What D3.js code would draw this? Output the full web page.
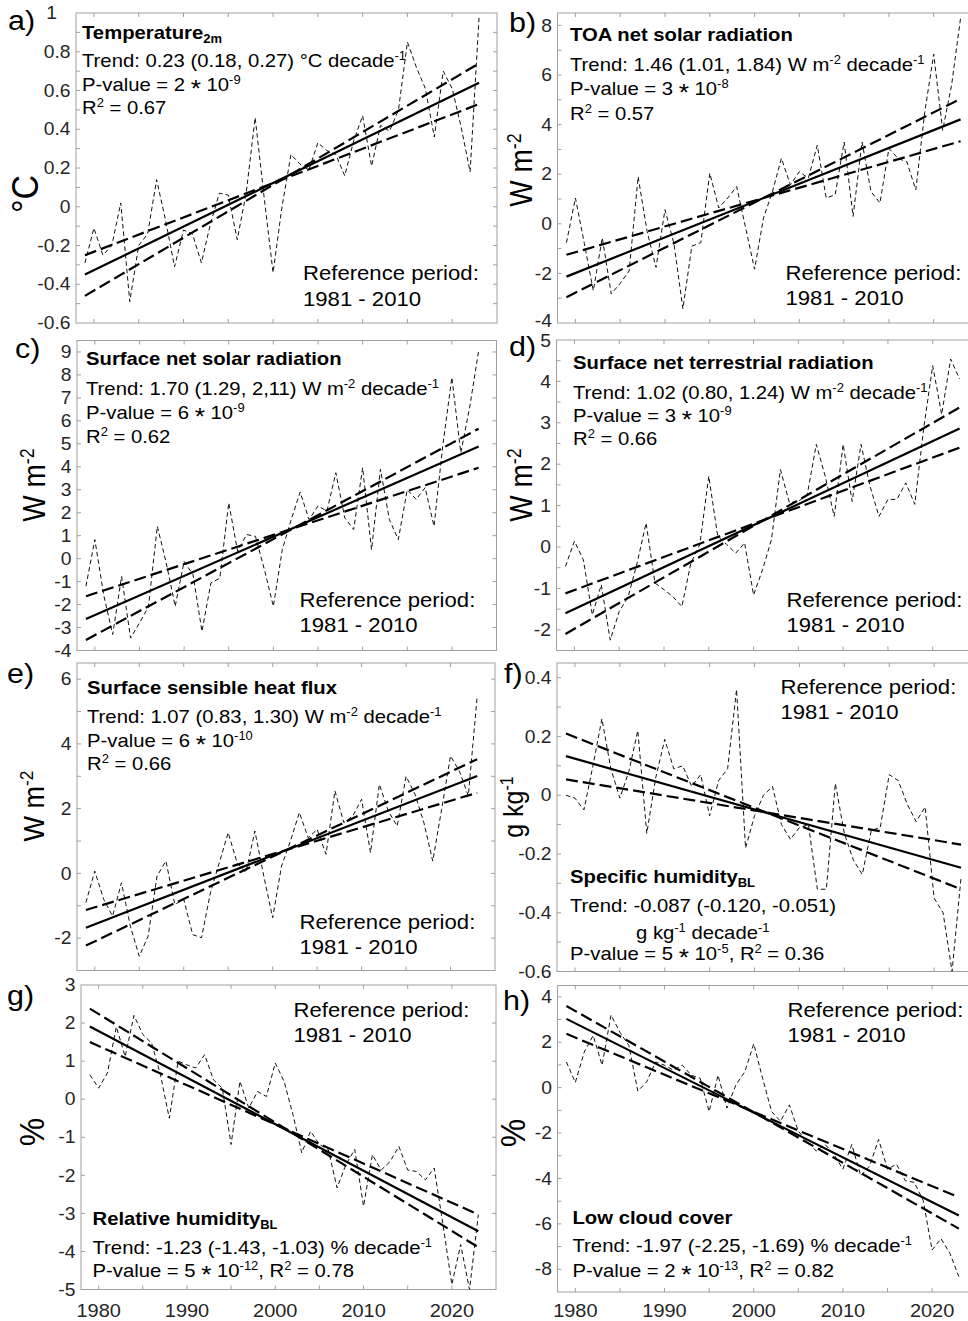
<!DOCTYPE html>
<html><head><meta charset="utf-8">
<script src="https://cdn.jsdelivr.net/npm/d3@7"></script>
<style>body{margin:0;background:#fff}svg{display:block}text{white-space:pre}</style>
</head><body>
<svg id="chart" width="968" height="1321"></svg>
<script>
// ---------------- DATA ----------------
const years = [1979,1980,1981,1982,1983,1984,1985,1986,1987,1988,1989,1990,1991,1992,1993,1994,1995,1996,1997,1998,1999,2000,2001,2002,2003,2004,2005,2006,2007,2008,2009,2010,2011,2012,2013,2014,2015,2016,2017,2018,2019,2020,2021,2022,2023];
const trendYears = [1979, 2023];
const xTickYears = [1980,1985,1990,1995,2000,2005,2010,2015,2020];
const xTickLabels = [1980,1990,2000,2010,2020];

const tempData = [-0.29,-0.11,-0.25,-0.20,0.02,-0.49,-0.20,-0.14,0.14,-0.07,-0.31,-0.12,-0.14,-0.29,-0.09,0.07,0.06,-0.17,0.07,0.46,0.05,-0.34,0.00,0.27,0.22,0.19,0.33,0.29,0.27,0.16,0.34,0.47,0.21,0.42,0.39,0.50,0.85,0.72,0.61,0.36,0.70,0.61,0.41,0.18,0.98];
const toaData = [-0.76,1.04,-0.8,-2.7,-0.56,-2.83,-2.4,-1.9,1.9,-0.3,-1.76,0.57,-0.8,-3.43,-0.9,-0.76,2.04,0.64,1.04,1.5,-0.16,-1.83,0.24,1.3,2.64,1.57,2.1,1.84,3.17,1.04,1.17,3.3,0.3,3.3,1.3,0.84,3.04,2.64,2.5,1.37,4.5,6.84,3.77,5.6,8.3];
const sfcSolarData = [-1.2,0.83,-1.6,-3.3,-0.77,-3.46,-2.8,-2.1,1.41,-0.19,-2.08,-0.12,-0.7,-3.17,-1.06,-0.85,2.43,0.32,1.05,0.97,-0.48,-2.08,0.39,1.7,2.9,1.7,2.3,2.07,3.74,1.78,1.27,3.96,0.39,3.89,1.7,0.83,3.0,2.58,3.09,1.41,4.98,7.89,4.61,6.6,9.05];
const sfcTerrData = [-0.47,0.14,-0.31,-1.64,-0.91,-2.25,-1.56,-1.2,-0.39,0.58,-0.87,-1.03,-1.2,-1.44,-0.39,0.06,1.71,0.26,0.06,-0.15,0.1,-1.16,-0.55,0.18,1.87,1.07,1.1,1.27,2.48,1.71,0.74,2.48,1.1,2.48,1.47,0.74,1.15,1.15,1.55,1.03,2.88,4.38,3.2,4.54,4.06];
const shfData = [-0.9,0.07,-0.8,-1.32,-0.29,-1.63,-2.56,-1.94,-0.08,0.38,-0.96,-0.8,-1.89,-1.99,-0.6,0.33,1.26,0.33,0.02,1.31,-0.08,-1.37,0.23,1.0,1.88,1.1,1.36,0.59,2.55,1.57,1.77,2.29,0.64,2.75,1.93,1.46,3.0,2.45,1.57,0.38,1.98,3.63,3.16,2.4,5.48];
const qData = [0.0,-0.01,-0.05,0.1,0.26,0.09,-0.01,0.08,0.22,-0.13,0.06,0.19,0.09,0.1,0.03,0.07,-0.07,0.05,0.09,0.36,-0.18,-0.07,0.0,0.03,-0.1,-0.15,-0.11,-0.1,-0.32,-0.32,0.04,-0.13,-0.22,-0.27,-0.12,-0.11,0.07,0.05,-0.03,-0.09,-0.04,-0.35,-0.4,-0.6,-0.28];
const rhData = [0.64,0.29,0.69,1.9,1.12,2.2,1.7,1.47,0.64,-0.5,1.0,0.9,0.82,1.17,0.51,0.29,-1.19,0.47,-0.23,0.2,0.07,0.95,0.47,-0.4,-1.41,-0.84,-1.19,-1.32,-2.33,-1.72,-1.32,-2.81,-1.46,-1.86,-1.64,-1.24,-1.86,-1.9,-2.12,-1.81,-3.3,-4.87,-3.82,-5.0,-3.03];
const lccData = [1.13,0.23,1.57,2.3,0.99,3.2,2.44,1.86,-0.15,0.26,1.13,0.99,0.77,0.99,0.55,0.41,-1.05,0.55,-0.9,0.12,0.7,1.93,0.41,-1.05,-1.48,-0.76,-1.92,-2.36,-2.79,-2.5,-2.94,-3.59,-2.5,-3.88,-3.45,-2.28,-3.59,-3.37,-4.1,-4.17,-4.97,-7.15,-6.65,-7.3,-8.32];

// trend lines (values at 1979 and 2023): best fit, lower-slope bound, upper-slope bound
const tempTrend = [-0.35, 0.64], tempLo = [-0.25, 0.53], tempHi = [-0.46, 0.74];
const toaTrend = [-2.13, 4.21], toaLo = [-1.25, 3.33], toaHi = [-2.96, 5.04];
const sfcSolarTrend = [-2.63, 4.88], sfcSolarLo = [-1.64, 3.96], sfcSolarHi = [-3.54, 5.66];
const sfcTerrTrend = [-1.6, 2.86], sfcTerrLo = [-1.12, 2.4], sfcTerrHi = [-2.1, 3.37];
const shfTrend = [-1.68, 3.01], shfLo = [-1.13, 2.49], shfHi = [-2.23, 3.53];
const qTrend = [0.133, -0.247], qLo = [0.054, -0.168], qHi = [0.21, -0.32];
const rhTrend = [1.91, -3.47], rhLo = [1.5, -3.03], rhHi = [2.38, -3.89];
const lccTrend = [3.03, -5.63], lccLo = [2.37, -4.83], lccHi = [3.6, -6.21];

// y tick labels
const tempYTicks = [-0.6,-0.4,-0.2,0,0.2,0.4,0.6,0.8,1];
const toaYTicks = [-4,-2,0,2,4,6,8];
const sfcSolarYTicks = [-4,-3,-2,-1,0,1,2,3,4,5,6,7,8,9];
const sfcTerrYTicks = [-2,-1,0,1,2,3,4,5];
const shfYTicks = [-2,0,2,4,6];
const qYTicks = [-0.6,-0.4,-0.2,0,0.2,0.4];
const rhYTicks = [-5,-4,-3,-2,-1,0,1,2,3];
const lccYTicks = [-8,-6,-4,-2,0,2,4];

// ---------------- LAYOUT / STYLE ----------------
const SX = 1.09; // horizontal text stretch
const FR = '#a0a0a0';
const panels = [
 {lab:'a)', labPos:[8,30], data:tempData, tr:tempTrend, lo:tempLo, hi:tempHi, yd:[-0.6,1], yt:tempYTicks, minor:0.1,
  f:{l:76,r:497,t:13,b:323}, ylab:'°C', ylabPos:[38,194], ylabSize:34, tickOff:{'1':[-13.5,0]},
  texts:[[82,39,'Temperature_{2m}',1],[82,66.5,'Trend: 0.23 (0.18, 0.27) °C decade^{-1}',0],[82,90.5,'P-value = 2 @{*} 10^{-9}',0],[82,114,'R^{2} = 0.67',0]],
  ref:[303,280]},
 {lab:'b)', labPos:[509,31.5], data:toaData, tr:toaTrend, lo:toaLo, hi:toaHi, yd:[-4,8.5], yt:toaYTicks, minor:1,
  f:{l:557.5,r:978.5,t:13,b:323}, ylab:'W m^{-2}', ylabPos:[532,170], ylabSize:28, tickOff:{'-4':[0,-2.5]},
  texts:[[570,40.5,'TOA net solar radiation',1],[570,70.5,'Trend: 1.46 (1.01, 1.84) W m^{-2} decade^{-1}',0],[570,95,'P-value = 3 @{*} 10^{-8}',0],[570,119.5,'R^{2} = 0.57',0]],
  ref:[785.5,279.5]},
 {lab:'c)', labPos:[15,357.5], data:sfcSolarData, tr:sfcSolarTrend, lo:sfcSolarLo, hi:sfcSolarHi, yd:[-4,9.5], yt:sfcSolarYTicks, minor:1,
  f:{l:77,r:496.5,t:340.5,b:650.5}, ylab:'W m^{-2}', ylabPos:[45,485], ylabSize:28, tickOff:{},
  texts:[[86,365,'Surface net solar radiation',1],[86,395,'Trend: 1.70 (1.29, 2,11) W m^{-2} decade^{-1}',0],[86,418.5,'P-value = 6 @{*} 10^{-9}',0],[86,443,'R^{2} = 0.62',0]],
  ref:[299.5,606.5]},
 {lab:'d)', labPos:[509,356], data:sfcTerrData, tr:sfcTerrTrend, lo:sfcTerrLo, hi:sfcTerrHi, yd:[-2.5,5], yt:sfcTerrYTicks, minor:0.5,
  f:{l:556.5,r:977.5,t:340,b:650.5}, ylab:'W m^{-2}', ylabPos:[532,485], ylabSize:28, tickOff:{'5':[0,0.5]},
  texts:[[573,368.5,'Surface net terrestrial radiation',1],[573,398.5,'Trend: 1.02 (0.80, 1.24) W m^{-2} decade^{-1}',0],[573,421.5,'P-value = 3 @{*} 10^{-9}',0],[573,445,'R^{2} = 0.66',0]],
  ref:[786.5,606.5]},
 {lab:'e)', labPos:[7,683], data:shfData, tr:shfTrend, lo:shfLo, hi:shfHi, yd:[-3,6.5], yt:shfYTicks, minor:1,
  f:{l:77,r:495,t:663,b:970.5}, ylab:'W m^{-2}', ylabPos:[44,806], ylabSize:27, tickOff:{},
  texts:[[87,693.5,'Surface sensible heat flux',1],[87,722.5,'Trend: 1.07 (0.83, 1.30) W m^{-2} decade^{-1}',0],[87,747,'P-value = 6 @{*} 10^{-10}',0],[87,770,'R^{2} = 0.66',0]],
  ref:[299.5,928.5]},
 {lab:'f)', labPos:[504,683], data:qData, tr:qTrend, lo:qLo, hi:qHi, yd:[-0.6,0.45], yt:qYTicks, minor:0.1,
  f:{l:557,r:979,t:663,b:971.5}, ylab:'g kg^{-1}', ylabPos:[523,807], ylabSize:25, tickOff:{},
  texts:[[570,883,'Specific humidity_{BL}',1],[570,911.5,'Trend: -0.087 (-0.120, -0.051)',0],[636,938.5,'g kg^{-1} decade^{-1}',0],[570,960,'P-value = 5 @{*} 10^{-5}, R^{2} = 0.36',0]],
  ref:[780.5,693.5]},
 {lab:'g)', labPos:[7,1005], data:rhData, tr:rhTrend, lo:rhLo, hi:rhHi, yd:[-5,3], yt:rhYTicks, minor:1,
  f:{l:81,r:496,t:985,b:1289.5}, ylab:'%', ylabPos:[44,1132], ylabSize:32, tickOff:{},
  texts:[[92.5,1225,'Relative humidity_{BL}',1],[92.5,1253.5,'Trend: -1.23 (-1.43, -1.03) % decade^{-1}',0],[92.5,1277,'P-value = 5 @{*} 10^{-12}, R^{2} = 0.78',0]],
  ref:[293.5,1016.5], xlabels:true},
 {lab:'h)', labPos:[503,1010], data:lccData, tr:lccTrend, lo:lccLo, hi:lccHi, yd:[-9,4.5], yt:lccYTicks, minor:1,
  f:{l:557.5,r:976.7,t:985.5,b:1292}, ylab:'%', ylabPos:[525,1133], ylabSize:32, tickOff:{},
  texts:[[572.5,1223.5,'Low cloud cover',1],[572.5,1252,'Trend: -1.97 (-2.25, -1.69) % decade^{-1}',0],[572.5,1277,'P-value = 2 @{*} 10^{-13}, R^{2} = 0.82',0]],
  ref:[787.5,1016.5], xlabels:true}
];

const svg = d3.select('#chart');
svg.append('rect').attr('width',968).attr('height',1321).attr('fill','#fff');
const FONT = 'Liberation Sans, Arial, Helvetica, sans-serif';

function parseRich(s){
  const parts = s.split(/(\^\{[^}]*\}|_\{[^}]*\}|@\{[^}]*\})/).filter(p=>p.length);
  return parts.map(p => {
    if (p[1]==='{' && (p[0]==='^' || p[0]==='_' || p[0]==='@')) return [p.slice(2,-1), p[0]];
    return [p,''];
  });
}
function richText(parent, x, y, str, size, opts={}){
  let tf = `translate(${x},${y}) scale(${SX},1)`;
  if (opts.rotate) tf += ` rotate(${opts.rotate})`;
  const g = parent.append('g').attr('transform', tf);
  const t = g.append('text').attr('font-family',FONT).attr('font-size',size)
    .attr('font-weight', opts.bold ? 'bold' : 'normal').attr('fill', opts.fill || '#000')
    .attr('text-anchor', opts.anchor || 'start');
  if (opts.dy) t.attr('dy', opts.dy);
  let shift = 0;
  parseRich(str).forEach(([txt,k])=>{
    const target = k==='^' ? -0.36*size : (k==='_' ? 0.24*size : (k==='@' ? 0.34*size : 0));
    const ts = t.append('tspan').text(txt);
    if (target - shift !== 0) ts.attr('dy', target - shift);
    if (k==='^' || k==='_') ts.attr('font-size', size*0.64);
    if (k==='@') ts.attr('font-size', size*1.3);
    shift = target;
  });
  return t;
}

panels.forEach((p,i)=>{
  const {l,r,t,b} = p.f;
  const x = d3.scaleLinear().domain([1978,2025]).range([l,r]);
  const y = d3.scaleLinear().domain(p.yd).range([b,t]);
  const g = svg.append('g');
  const cid = 'clip'+i;
  svg.append('clipPath').attr('id',cid).append('rect').attr('x',l).attr('y',t).attr('width',r-l).attr('height',b-t);

  g.append('rect').attr('x',l).attr('y',t).attr('width',r-l).attr('height',b-t)
    .attr('fill','none').attr('stroke',FR).attr('stroke-width',1);

  const TL = 4;
  xTickYears.forEach(yr=>{
    const xx = x(yr);
    g.append('line').attr('x1',xx).attr('x2',xx).attr('y1',b).attr('y2',b-TL).attr('stroke',FR);
    g.append('line').attr('x1',xx).attr('x2',xx).attr('y1',t).attr('y2',t+TL).attr('stroke',FR);
  });
  const start = Math.ceil(p.yd[0]/p.minor - 1e-9)*p.minor;
  for (let v = start; v <= p.yd[1]+1e-9; v += p.minor){
    const yy = y(v);
    if (yy < t+0.5 || yy > b-0.5) continue;
    g.append('line').attr('x1',l).attr('x2',l+TL).attr('y1',yy).attr('y2',yy).attr('stroke',FR);
    g.append('line').attr('x1',r).attr('x2',r-TL).attr('y1',yy).attr('y2',yy).attr('stroke',FR);
  }
  p.yt.forEach(v=>{
    const off = p.tickOff[String(v)] || [0,0];
    richText(svg, l-5.5+off[0], y(v)+off[1], String(v), 17.7, {anchor:'end', dy:'0.35em', fill:'#262626'});
  });
  if (p.xlabels){
    xTickLabels.forEach(v=>{
      richText(svg, x(v), 1316.5, String(v), 18.3, {anchor:'middle', fill:'#262626'});
    });
  }

  const pg = g.append('g').attr('clip-path',`url(#${cid})`);
  const line = d3.line().x(d=>x(d[0])).y(d=>y(d[1]));
  const series = years.map((yr,k)=>[yr,p.data[k]]);
  pg.append('path').attr('d',line(series)).attr('fill','none').attr('stroke','#111')
    .attr('stroke-width',1).attr('stroke-dasharray','4.5,3');
  [p.lo,p.hi].forEach(arr=>{
    pg.append('path').attr('d',line(trendYears.map((yr,k)=>[yr,arr[k]])))
      .attr('fill','none').attr('stroke','#000').attr('stroke-width',2.2).attr('stroke-dasharray','12,5');
  });
  pg.append('path').attr('d',line(trendYears.map((yr,k)=>[yr,p.tr[k]])))
    .attr('fill','none').attr('stroke','#000').attr('stroke-width',2.2);

  p.texts.forEach(([tx,ty,str,bold])=>{
    richText(svg, tx, ty, str, 18.6, {bold: !!bold});
  });
  richText(svg, p.ref[0], p.ref[1], 'Reference period:', 20.3);
  richText(svg, p.ref[0], p.ref[1]+25.5, '1981 - 2010', 20.3);

  richText(svg, p.ylabPos[0], p.ylabPos[1], p.ylab, p.ylabSize, {anchor:'middle', rotate:-90});
  richText(svg, p.labPos[0], p.labPos[1], p.lab, 28);
});
</script>
</body></html>
